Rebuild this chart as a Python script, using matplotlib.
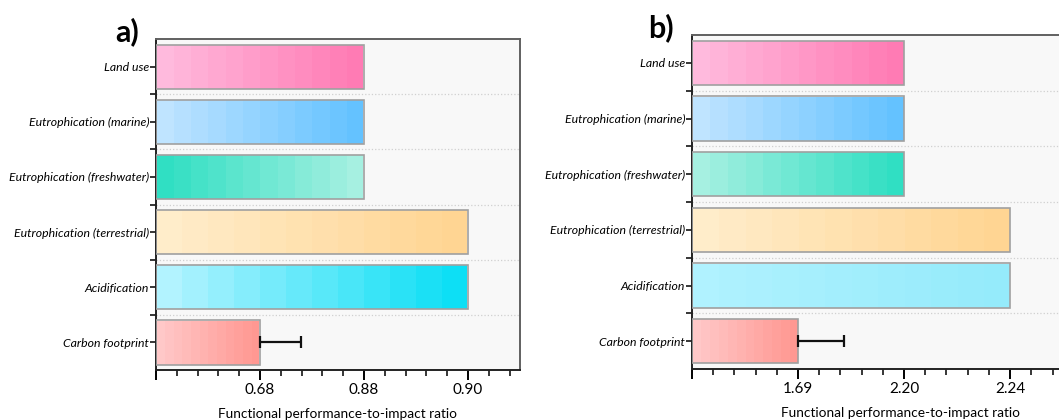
import numpy as np
import matplotlib
matplotlib.use("Agg")
import matplotlib.pyplot as plt
import matplotlib.transforms as mtransforms
from matplotlib.colors import LinearSegmentedColormap
from matplotlib.ticker import FixedLocator, NullFormatter

plt.rcParams["font.family"] = ["Lato", "DejaVu Sans"]

# impact categories, top to bottom
categories = [
    "Land use",
    "Eutrophication (marine)",
    "Eutrophication (freshwater)",
    "Eutrophication (terrestrial)",
    "Acidification",
    "Carbon footprint",
]

# panel a)
ratios_a = [0.88, 0.88, 0.88, 0.90, 0.90, 0.68]
carbon_err_a = 0.078
ticks_a = [0.68, 0.88, 0.90]

# panel b)
ratios_b = [2.20, 2.20, 2.20, 2.24, 2.24, 1.69]
carbon_err_b = 0.22
ticks_b = [1.69, 2.20, 2.24]

# gradient (left colour, right colour) for each bar
colors_a = [
    ("#ffbadd", "#ff7bb4"),
    ("#bfe4ff", "#64c2ff"),
    ("#30dfc3", "#a6f0e1"),
    ("#ffedca", "#ffd593"),
    ("#b2f3ff", "#0ddff5"),
    ("#ffc8c8", "#ff9892"),
]
colors_b = [
    ("#ffbadd", "#ff7bb4"),
    ("#bfe4ff", "#64c2ff"),
    ("#a6f0e1", "#30dfc3"),
    ("#ffedca", "#ffd593"),
    ("#b0f2ff", "#95ebfb"),
    ("#ffc8c8", "#ff9892"),
]


def make_scale(ticks):
    # the axis places each reported ratio on an evenly spaced slot
    vals = np.array([0.0] + list(ticks) + [ticks[-1] + 10 * (ticks[-1] - ticks[-2])])
    pos = np.array([0.0, 1.0, 2.0, 3.0, 13.0])

    def fwd(x):
        return np.interp(x, vals, pos)

    def inv(p):
        return np.interp(p, pos, vals)

    return fwd, inv


def draw_panel(ax, ratios, err, ticks, colors, xmax_pos, tag, tag_xy, fig):
    fwd, inv = make_scale(ticks)
    ax.set_xscale("function", functions=(fwd, inv))
    ax.set_facecolor("#f8f8f8")
    y = np.arange(len(categories))

    ax.barh(y, ratios, height=0.8, left=0, facecolor="none",
            edgecolor="#a0a0a0", linewidth=1.2, zorder=3)

    # gradient fill, placed in axes-fraction x so the banding stays even
    trans = mtransforms.blended_transform_factory(ax.transAxes, ax.transData)
    for i, (r, (c0, c1)) in enumerate(zip(ratios, colors)):
        cmap = LinearSegmentedColormap.from_list(f"g{i}", [c0, c1])
        grad = np.linspace(0, 1, 12).reshape(1, -1)
        x1 = fwd(r) / xmax_pos
        ax.imshow(grad, cmap=cmap, aspect="auto", interpolation="nearest",
                  extent=(0, x1, i + 0.4, i - 0.4), transform=trans, zorder=2)

    ax.errorbar(ratios[-1], y[-1], xerr=[[0], [err]], fmt="none",
                ecolor="#111111", elinewidth=1.6, capsize=4, capthick=1.6, zorder=4)

    ax.set_xlim(0, inv(xmax_pos))
    ax.set_ylim(len(categories) - 0.5, -0.5)

    ax.xaxis.set_major_locator(FixedLocator([0] + ticks))
    ax.set_xticklabels([""] + [f"{t:.2f}" for t in ticks])
    minor_pos = [p for p in np.arange(0.2, xmax_pos, 0.2) if abs(p - round(p)) > 1e-6]
    ax.xaxis.set_minor_locator(FixedLocator([inv(p) for p in minor_pos]))
    ax.xaxis.set_minor_formatter(NullFormatter())

    ax.set_yticks(y)
    ax.set_yticklabels(categories, fontstyle="italic", fontsize=8.8)
    ax.yaxis.set_minor_locator(FixedLocator(np.arange(0.5, len(categories) - 0.5, 1.0)))
    ax.grid(which="minor", axis="y", linestyle=":", color="#d0d0d0", linewidth=0.9, zorder=0)

    ax.tick_params(axis="x", which="major", length=7, width=1.4, labelsize=11, pad=2)
    ax.tick_params(axis="x", which="minor", length=4, width=1.1)
    ax.tick_params(axis="y", which="both", length=4, width=1.1, pad=1)

    for side in ("left", "bottom"):
        ax.spines[side].set_color("#222222")
        ax.spines[side].set_linewidth(1.4)
    for side in ("top", "right"):
        ax.spines[side].set_color("#606060")
        ax.spines[side].set_linewidth(1.4)

    ax.set_xlabel("Functional performance-to-impact ratio", fontsize=9.8, labelpad=8.5)
    fig.text(tag_xy[0], tag_xy[1], tag, fontsize=22, fontweight="bold",
             ha="center", va="center")


fig = plt.figure(figsize=(10.59, 4.2), dpi=100)
ax_a = fig.add_axes([0.1473, 0.119, 0.3437, 0.788])
ax_b = fig.add_axes([0.6534, 0.1214, 0.3946, 0.795])

draw_panel(ax_a, ratios_a, carbon_err_a, ticks_a, colors_a, 3.5, "a)", (0.120, 0.925), fig)
draw_panel(ax_b, ratios_b, carbon_err_b, ticks_b, colors_b, 3.94, "b)", (0.624, 0.935), fig)

fig.savefig("out.png", dpi=100, facecolor="white")
